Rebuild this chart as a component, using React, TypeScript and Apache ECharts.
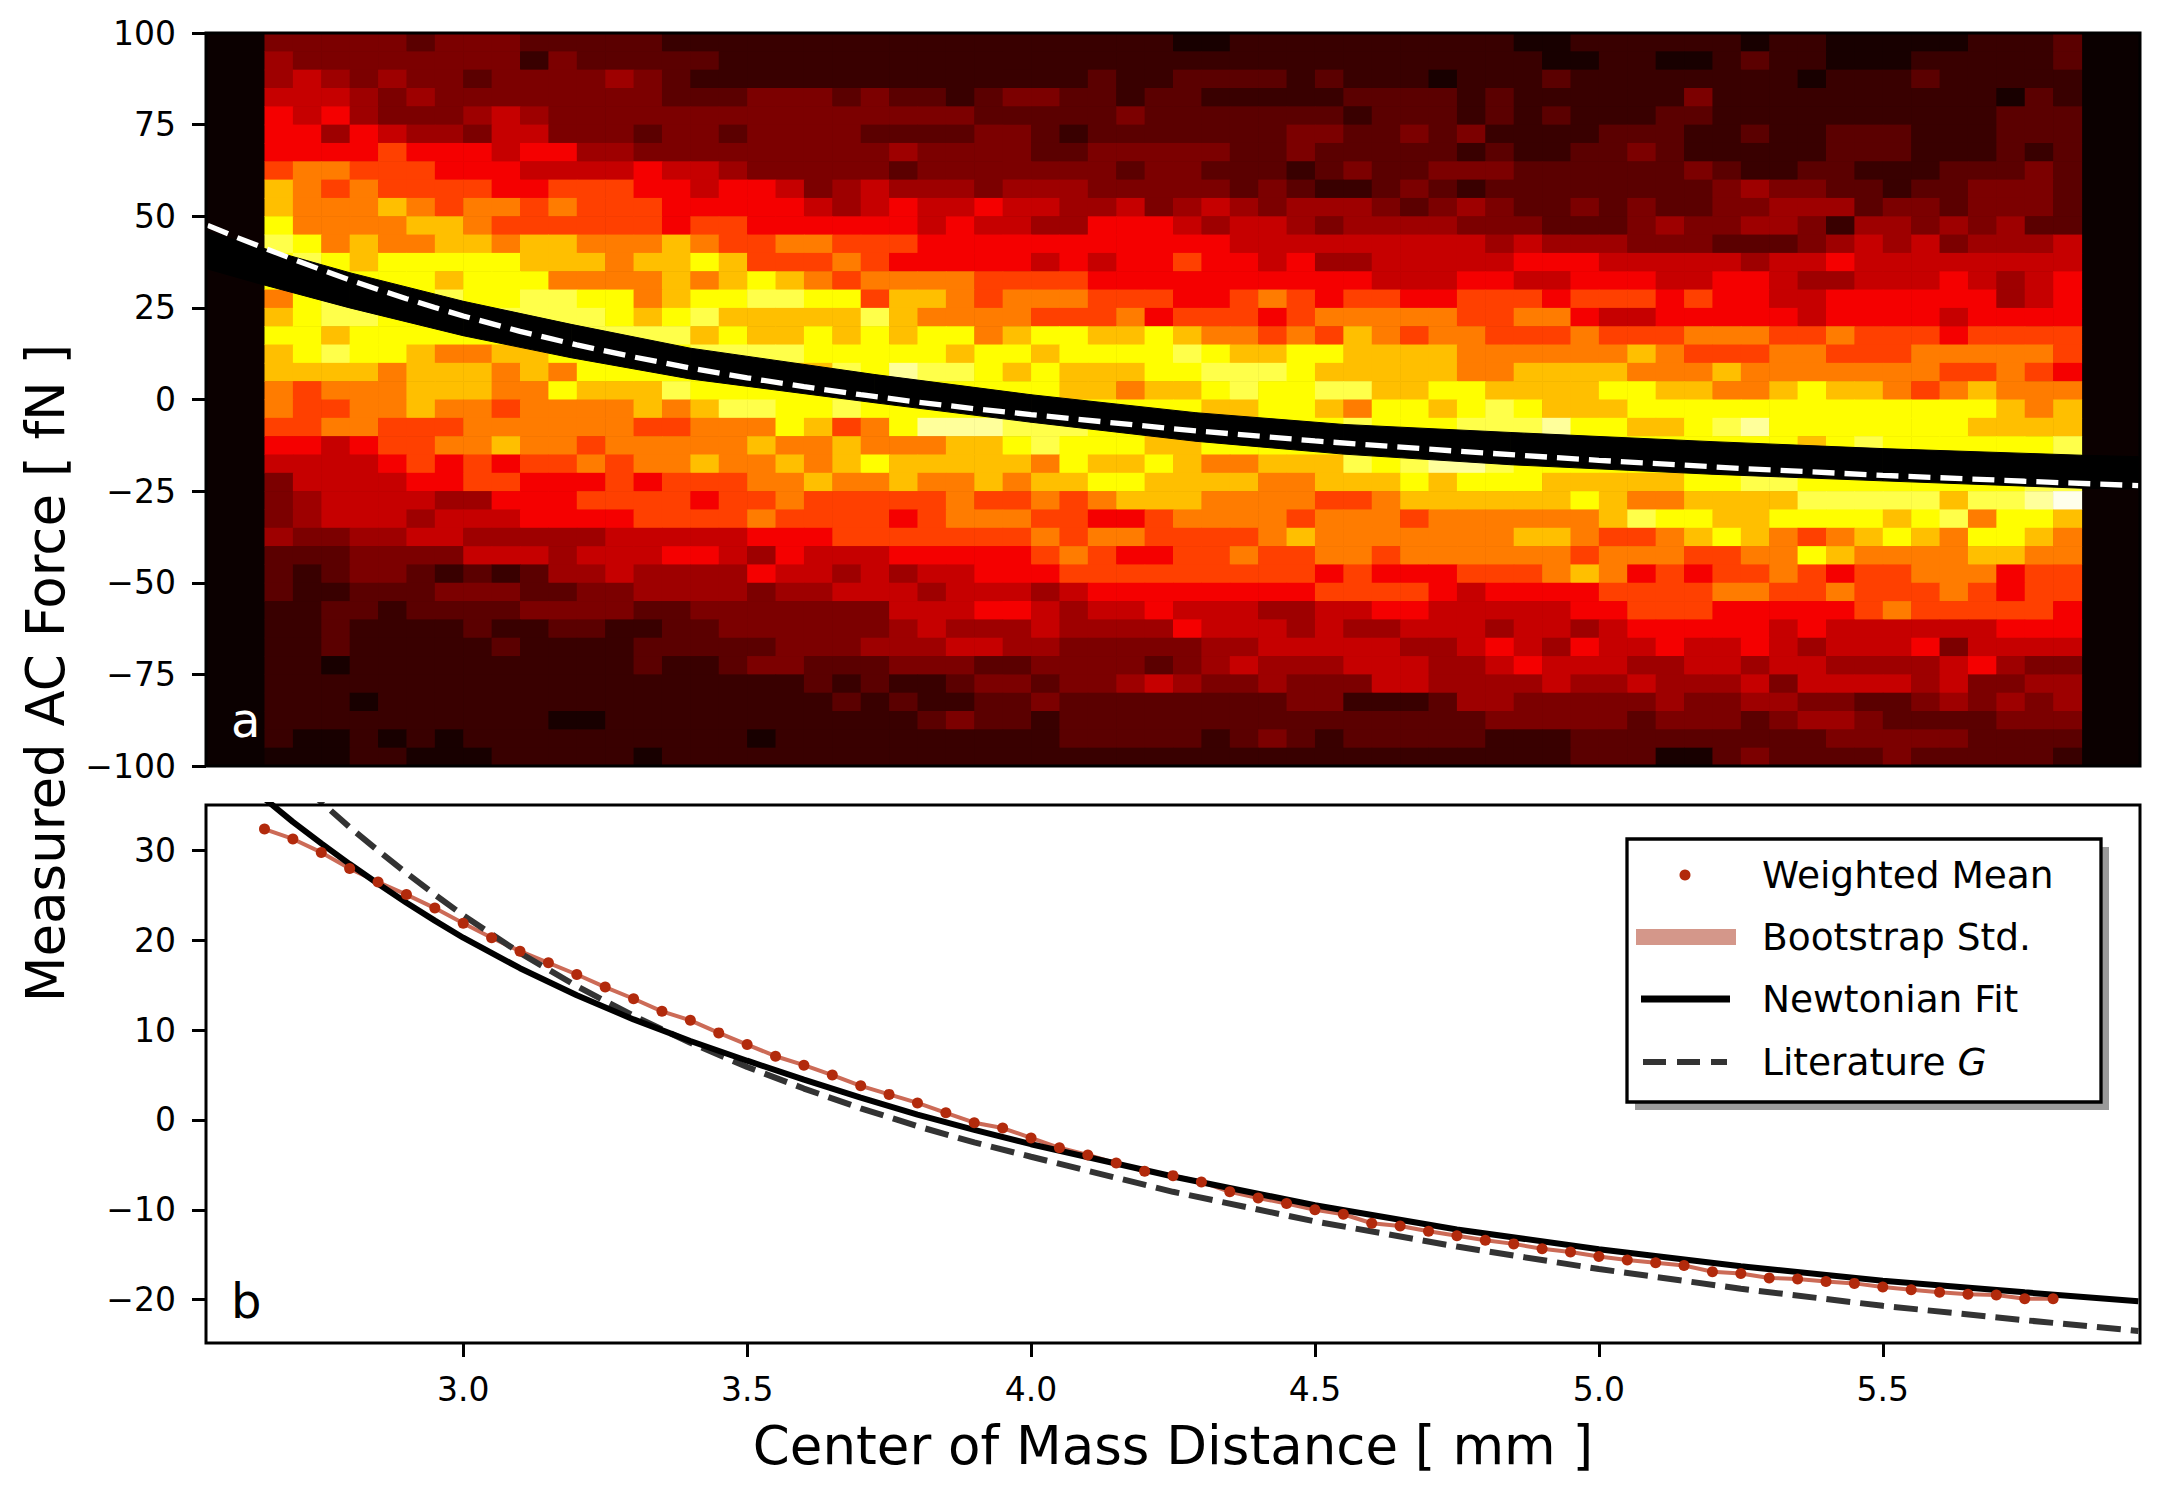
import React, { useEffect, useRef } from "react";
import * as echarts from "echarts";

// ---------- data ----------
const distanceBins = [
  2.65, 2.7, 2.75, 2.8, 2.85, 2.9, 2.95, 3.0, 3.05, 3.1, 3.15, 3.2, 3.25, 3.3, 3.35, 3.4,
  3.45, 3.5, 3.55, 3.6, 3.65, 3.7, 3.75, 3.8, 3.85, 3.9, 3.95, 4.0, 4.05, 4.1, 4.15, 4.2,
  4.25, 4.3, 4.35, 4.4, 4.45, 4.5, 4.55, 4.6, 4.65, 4.7, 4.75, 4.8, 4.85, 4.9, 4.95, 5.0,
  5.05, 5.1, 5.15, 5.2, 5.25, 5.3, 5.35, 5.4, 5.45, 5.5, 5.55, 5.6, 5.65, 5.7, 5.75, 5.8,
];
const forceBins = [
  95, 90, 85, 80, 75, 70, 65, 60, 55, 50, 45, 40, 35, 30, 25, 20, 15, 10, 5, 0,
  -5, -10, -15, -20, -25, -30, -35, -40, -45, -50, -55, -60, -65, -70, -75, -80, -85, -90, -95, -100,
];
const binWidth = 0.05;
const binHeight = 5;
const heatLevels = "0123456789ABCD";
const heatRows = [
  "3 3 3 3 3 2 3 3 3 2 2 2 2 2 1 1 1 1 1 1 1 1 | 1 1 1 1 1 1 1 1 1 1 0 0 1 1 1 1 1 1 1 1 1 1 | 0 0 1 1 1 1 1 1 0 1 1 0 0 0 0 0 1 1 1 2",
  "4 3 3 3 3 3 3 3 3 1 3 2 2 2 2 2 1 1 1 1 1 1 | 1 1 1 1 1 1 1 1 1 1 1 1 1 1 1 1 1 1 1 1 1 1 | 1 0 0 1 1 0 0 1 2 1 1 0 0 0 1 1 1 1 1 2",
  "4 5 4 3 4 3 3 2 3 3 3 3 4 3 2 1 1 1 1 1 1 1 | 1 1 1 1 1 1 1 2 1 1 2 2 2 2 1 2 1 1 1 0 1 1 | 1 2 1 1 1 1 1 1 1 1 0 1 1 1 2 1 1 1 1 1",
  "5 5 5 4 3 4 3 3 3 3 3 3 3 3 2 2 2 3 3 3 2 3 | 2 2 1 2 3 3 2 2 1 2 2 1 1 1 1 1 2 2 2 2 1 2 | 1 1 1 1 1 1 3 1 1 1 1 1 1 1 1 1 1 0 2 1",
  "6 5 6 4 3 3 3 4 5 4 3 3 3 3 3 3 3 3 3 3 3 3 | 3 3 3 2 2 2 2 2 3 2 2 2 2 2 2 2 1 2 2 2 1 2 | 1 2 1 1 1 2 2 1 1 1 1 1 1 1 1 1 1 2 2 2",
  "6 6 4 6 5 4 4 3 5 5 3 3 3 2 3 3 2 3 3 3 3 2 | 2 2 2 3 3 2 1 2 2 2 2 2 2 2 3 3 2 2 3 2 3 1 | 1 1 1 2 2 2 1 1 2 1 1 2 2 2 1 1 1 2 2 2",
  "6 6 6 6 7 6 6 6 5 6 6 4 4 3 3 3 3 3 3 3 3 3 | 4 3 3 3 3 2 2 3 3 3 3 3 2 2 3 2 2 2 2 2 1 2 | 1 1 2 2 3 2 1 1 1 1 1 2 2 2 1 1 1 2 1 2",
  "7 8 8 7 7 7 6 6 6 5 5 5 5 6 5 5 4 3 3 3 3 3 | 2 3 3 3 3 3 3 3 2 3 3 2 2 2 1 2 3 2 2 3 3 3 | 2 2 2 2 2 2 3 2 1 1 2 2 1 1 1 2 2 2 3 2",
  "9 8 7 8 7 7 7 7 6 6 7 7 7 6 6 5 6 6 5 3 4 5 | 4 4 4 3 4 4 4 3 3 3 3 3 2 3 2 1 1 2 3 2 1 2 | 2 2 2 2 2 2 2 3 4 3 3 2 2 1 2 2 3 3 3 2",
  "9 8 8 8 9 8 7 8 8 7 8 7 7 7 6 6 6 6 6 5 4 5 | 6 5 5 6 5 5 4 4 5 3 4 5 4 3 4 4 4 3 2 3 4 3 | 2 2 3 2 3 2 2 3 3 4 4 4 2 3 3 2 3 3 3 2",
  "A 8 8 8 8 9 9 8 7 7 7 7 7 7 6 7 7 6 6 6 6 6 | 6 5 6 5 5 4 4 6 6 6 5 4 5 5 4 3 4 4 4 4 3 3 | 3 2 2 2 3 4 3 3 4 4 3 1 4 4 3 4 3 4 2 2",
  "B A 8 9 8 8 9 9 8 9 9 8 8 8 9 8 7 7 8 8 7 7 | 7 6 6 6 6 6 6 6 6 6 6 6 5 5 5 5 5 5 5 5 5 4 | 5 4 4 4 3 3 3 2 2 2 3 4 5 4 5 3 4 4 4 5",
  "A B A 9 A A A A A 9 9 9 8 9 9 A 9 7 7 7 8 7 | 6 6 6 6 6 5 6 5 6 6 7 6 6 5 6 4 4 5 5 5 5 5 | 6 6 6 5 5 5 5 5 4 5 5 6 5 5 5 5 5 5 5 5",
  "A A A A A A 9 A A A 8 8 8 8 9 8 9 A 9 8 7 8 | 8 8 8 7 7 7 7 6 6 6 6 6 6 6 6 6 6 5 5 5 6 6 | 5 5 6 6 6 5 5 6 6 5 4 4 5 5 5 6 5 4 5 6",
  "8 A B A A A B A A B B A A 8 9 A A B B A A 7 | 9 9 8 7 8 8 8 7 7 7 6 6 7 8 7 6 7 7 6 6 7 7 | 7 6 7 7 7 6 7 6 6 5 5 6 6 6 6 6 6 4 5 6",
  "9 A B B A A A A B B B B A 9 A B 9 9 9 9 9 B | 9 8 8 8 8 7 7 7 8 6 7 7 7 6 7 8 8 8 8 8 7 7 | 8 8 6 5 5 6 6 6 6 6 5 6 6 6 6 5 6 6 6 6",
  "A A 9 A A A A A A A B B B B B 9 A 9 9 A 9 A | 9 A A 8 9 A A 9 9 A 9 8 8 7 8 7 9 8 7 8 8 7 | 7 7 8 7 7 7 8 8 8 7 7 8 7 7 7 6 7 7 7 7",
  "9 A B A A 9 8 8 9 9 A A A A A B B B B A A A | A A 9 A A 9 A A A A B A 9 9 A A 9 9 9 9 8 8 | 8 8 8 8 9 8 7 7 7 8 8 7 7 7 8 8 8 8 8 7",
  "9 9 9 9 8 9 9 9 8 9 8 A A A A A A 9 9 9 B A | C B B A 9 A 9 9 9 A A B B B A 9 9 9 9 9 8 8 | 9 9 9 9 8 8 8 9 8 8 8 8 8 8 8 7 7 8 7 6",
  "8 7 8 8 8 9 9 9 8 8 A 9 9 9 B A A A A A A A | A A A A A A 9 9 8 9 9 A B A A B B 9 9 A A 9 | 9 9 9 A A 9 9 8 8 9 A 9 9 8 7 8 9 8 8 8",
  "8 7 7 8 8 9 8 8 7 8 8 8 8 9 8 9 B B A A B A | A A A A A 9 A A A A A 9 9 A A 9 8 A A 9 A B | A 9 9 9 A A A A A A A A A A A A A 9 8 9",
  "7 7 8 8 7 7 7 8 8 8 8 8 8 7 7 8 8 8 A 9 7 8 | A C C C B B B A A A A A A A A A B A A A B B | B C A A 9 9 A B C A A A A A A A 9 9 9 9",
  "6 6 5 6 7 7 8 8 9 8 8 7 8 8 8 8 8 9 8 8 9 8 | 8 8 9 9 A B A A A 9 9 A A A A A A A B B B B | A A A A A A A A A A 9 A B A A A A A A B",
  "5 5 5 5 6 7 6 7 6 7 7 8 7 8 8 9 8 8 9 8 9 A | 9 9 9 9 9 8 A 9 9 A 9 8 8 9 9 9 B A B C C B | A A A A A A A A A A A A A A A A A A B B",
  "3 5 5 5 5 6 6 7 7 6 6 6 7 6 7 7 7 8 8 9 8 8 | 9 8 8 9 8 9 9 A A 9 9 9 9 8 8 9 9 9 A 9 A A | A 9 9 9 9 9 A A B B A A A A A A A A B B",
  "3 4 5 5 5 5 4 4 6 6 6 7 7 7 7 6 7 7 8 7 7 7 | 7 7 8 7 7 8 7 8 9 9 9 8 8 8 8 7 7 8 9 9 9 9 | 9 9 A 9 8 8 9 9 9 9 B B B B B 9 B B C D",
  "3 4 5 5 5 4 5 5 5 6 6 6 6 7 7 7 7 8 7 7 7 7 | 6 7 8 8 8 7 7 6 6 7 8 8 8 8 7 8 8 8 7 8 8 8 | 8 8 8 9 B A A 9 9 A A A A 9 A B 8 A A 9",
  "4 3 3 4 4 5 5 4 4 4 4 4 5 5 5 5 5 6 6 6 7 7 | 7 7 7 7 7 8 7 8 8 7 7 7 7 8 9 8 8 8 8 8 8 8 | 9 9 8 7 7 8 9 A 9 8 7 8 9 A 9 8 A A 9 8",
  "2 2 2 3 3 3 3 5 5 5 4 5 5 5 6 6 5 4 6 5 5 5 | 6 6 6 6 6 7 8 7 6 6 7 7 8 7 7 8 8 7 8 8 8 8 | 8 8 7 8 8 8 7 7 8 8 A 9 8 8 8 8 9 9 8 8",
  "2 1 2 3 3 2 1 2 1 2 4 4 5 4 4 4 4 6 5 5 4 5 | 4 5 5 6 6 6 7 7 7 7 7 7 7 7 7 6 7 6 6 6 7 7 | 7 8 9 8 6 7 6 7 7 8 7 6 7 7 8 8 8 6 7 7",
  "2 1 1 2 2 2 3 3 3 2 2 3 3 4 4 4 4 3 4 4 5 5 | 5 4 5 5 5 4 5 6 6 6 6 6 6 6 6 7 7 7 7 6 5 6 | 6 6 6 7 7 7 7 8 8 7 7 8 7 7 7 8 7 6 7 7",
  "1 1 2 2 1 2 2 2 2 3 3 3 3 2 2 3 3 3 3 3 3 3 | 5 5 5 6 6 5 4 5 5 6 5 5 5 4 4 5 5 6 6 5 5 5 | 5 5 6 6 7 7 7 6 6 6 6 6 7 8 7 7 7 7 7 6",
  "1 1 2 1 1 1 1 2 1 1 2 2 1 1 2 2 3 3 3 3 3 3 | 4 5 4 4 4 5 4 4 4 4 6 5 5 5 4 5 4 4 5 5 5 4 | 5 5 4 5 6 6 6 6 6 5 6 5 5 5 5 5 5 6 6 6",
  "1 1 2 1 1 1 1 1 2 1 1 1 1 2 2 2 2 2 3 3 3 4 | 4 4 5 5 4 4 3 3 3 3 3 4 4 5 5 5 5 5 4 4 5 6 | 5 4 6 5 5 6 5 5 6 5 4 5 5 5 6 3 5 5 5 5",
  "1 1 0 1 1 1 1 1 1 1 1 1 1 2 1 1 2 3 3 2 2 2 | 3 3 3 2 2 3 3 3 3 2 3 4 5 4 4 4 5 5 5 4 4 5 | 6 5 5 5 4 4 5 5 4 5 5 4 4 4 4 5 6 4 3 3",
  "1 1 1 1 1 1 1 1 1 1 1 1 1 1 1 1 1 1 1 2 1 2 | 1 1 2 3 3 2 3 3 4 5 4 3 3 4 3 3 3 5 5 4 4 4 | 4 5 4 4 5 4 4 4 5 3 5 5 5 5 4 5 3 3 4 4",
  "1 1 1 0 1 1 1 1 1 1 1 1 1 1 1 1 1 1 1 1 2 1 | 2 1 1 2 2 3 2 2 2 2 2 2 2 2 3 3 1 1 1 2 4 4 | 3 3 3 3 3 4 3 3 4 4 3 3 2 2 3 4 3 4 3 4",
  "1 1 1 1 1 1 1 1 1 1 0 0 1 1 1 1 1 1 1 1 1 1 | 1 2 3 2 2 1 2 2 2 2 2 2 2 2 2 2 2 2 2 2 2 3 | 3 3 3 3 2 3 3 3 2 3 4 4 3 2 2 2 2 3 3 3",
  "1 0 0 1 0 1 0 1 1 1 1 1 1 1 1 1 1 0 1 1 1 1 | 1 1 1 1 1 1 2 2 2 2 2 1 2 3 2 1 2 2 2 2 2 1 | 1 1 2 2 2 2 2 2 2 2 2 3 3 3 3 3 2 2 2 2",
  "0 0 0 1 1 0 0 0 1 1 1 1 1 0 1 1 1 1 1 1 1 1 | 1 1 1 1 1 1 1 1 1 1 1 1 1 1 1 1 1 1 1 1 1 1 | 1 1 2 2 2 0 0 2 3 2 2 2 2 3 2 2 2 2 2 1",
];

const weightedMean = [
  32.4, 31.3, 29.8, 28.0, 26.5, 25.1, 23.6, 21.9, 20.3, 18.8, 17.5, 16.2, 14.8, 13.5, 12.1, 11.1,
  9.7, 8.4, 7.1, 6.1, 5.0, 3.8, 2.85, 1.9, 0.8, -0.3, -0.9, -2.0, -3.1, -3.9, -4.8, -5.7,
  -6.2, -6.9, -8.0, -8.7, -9.3, -10.0, -10.5, -11.5, -11.8, -12.4, -12.9, -13.4, -13.8, -14.35, -14.7, -15.2,
  -15.6, -15.9, -16.2, -16.9, -17.1, -17.6, -17.7, -18.0, -18.2, -18.6, -18.9, -19.2, -19.4, -19.5, -19.9, -19.9,
];

const fitX = [2.55, 2.6, 2.65, 2.7, 2.75, 2.8, 2.85, 2.9, 2.95, 3.0, 3.1, 3.2, 3.3, 3.4, 3.5, 3.6, 3.7, 3.8, 3.9, 4.0, 4.25, 4.5, 4.75, 5.0, 5.25, 5.5, 5.75, 5.95];
const fitY = [41.3, 38.5, 35.8, 33.2, 30.8, 28.5, 26.3, 24.2, 22.2, 20.3, 16.9, 13.9, 11.2, 8.8, 6.6, 4.5, 2.5, 0.6, -1.1, -2.7, -6.3, -9.5, -12.2, -14.4, -16.3, -17.9, -19.2, -20.2];

const litX = [2.55, 2.6, 2.65, 2.7, 2.75, 2.8, 2.85, 2.9, 2.95, 3.0, 3.1, 3.2, 3.3, 3.4, 3.5, 3.6, 3.7, 3.8, 3.9, 4.0, 4.25, 4.5, 4.75, 5.0, 5.25, 5.5, 5.75, 5.95];
const litY = [47.5, 44.3, 41.3, 38.3, 35.4, 32.6, 30.0, 27.5, 25.1, 22.8, 18.6, 14.9, 11.6, 8.6, 5.9, 3.5, 1.3, -0.7, -2.5, -4.1, -8.0, -11.3, -14.1, -16.6, -18.8, -20.7, -22.3, -23.5];

const bandX = [2.55, 2.636, 2.8, 3.0, 3.19, 3.4, 3.725, 4.0, 4.29, 4.55, 4.845, 5.2, 5.5, 5.85, 5.95];
const bandHigh = [45.8, 41.8, 34.6, 26.8, 20.5, 14.0, 6.8, 1.3, -3.6, -6.8, -9.0, -11.5, -13.4, -15.2, -15.6];
const bandLow = [35.6, 31.8, 25.0, 17.4, 11.4, 5.6, -0.9, -6.2, -11.4, -14.9, -17.8, -20.4, -22.2, -24.2, -24.4];

const distanceTicks = [3.0, 3.5, 4.0, 4.5, 5.0, 5.5];
const forceTicksBottom = [-20, -10, 0, 10, 20, 30];
const legendLabels = ["Weighted Mean", "Bootstrap Std.", "Newtonian Fit", "Literature G"];
const xTitle = "Center of Mass Distance [ mm ]";
const yTitle = "Measured AC Force [ fN ]";

// ---------- style ----------
const FONT = "DejaVu Sans";
const levelValue = [0.02, 0.07, 0.12, 0.17, 0.22, 0.28, 0.35, 0.46, 0.55, 0.65, 0.745, 0.82, 0.9, 0.98];
function hot(v: number) {
  const r = Math.min(1, 0.0416 + (1 - 0.0416) * v / 0.365079);
  const g = Math.max(0, Math.min(1, (v - 0.365079) / (0.746032 - 0.365079)));
  const b = Math.max(0, Math.min(1, (v - 0.746032) / (1 - 0.746032)));
  return `rgb(${Math.round(r * 255)},${Math.round(g * 255)},${Math.round(b * 255)})`;
}
const minus = (v: number) => String(v).replace("-", "\u2212");

const G1 = { left: 206, top: 33, width: 1934, height: 733 };
const G2 = { left: 206, top: 805, width: 1934, height: 538 };
const X_MIN = 2.547, X_MAX = 5.953;
const Y2_MIN = -24.84, Y2_MAX = 35.08;

function buildHeat() {
  const segLens = [22, 22, 20];
  const out: number[][] = [];
  heatRows.forEach((row, r) => {
    const cells: string[] = [];
    row.split("|").forEach((seg, i) => {
      const arr = seg.trim().split(/\s+/).slice(0, segLens[i]);
      while (arr.length < segLens[i]) arr.push(arr[arr.length - 1]);
      cells.push(...arr);
    });
    cells.forEach((c, k) => {
      out.push([distanceBins[k], forceBins[r], Math.max(0, heatLevels.indexOf(c))]);
    });
  });
  return out;
}

export default function App() {
  const ref = useRef<HTMLDivElement>(null);
  useEffect(() => {
    document.body.style.margin = "0";
    if (!ref.current) return;
    const chart = echarts.init(ref.current, null, { renderer: "svg" });
    const heatData = buildHeat();
    const bandData = bandX.slice(0, -1).map((x, i) => [x, bandLow[i], bandHigh[i], bandX[i + 1], bandLow[i + 1], bandHigh[i + 1]]);
    const axisTextBase = { color: "#000", fontFamily: FONT, fontSize: 33 };
    const tickStyle = { show: true, inside: false, length: 14, lineStyle: { color: "#000", width: 3 } };

    const legendX = 1627, legendY = 839, legendW = 474, legendH = 263;
    const rowY = [875, 937, 999, 1062];
    const textX = 1762;
    const legendTextStyle = (t: string, y: number) => ({
      type: "text",
      z: 102,
      silent: true,
      style: {
        x: textX, y, text: t, fill: "#000", font: `37.5px "${FONT}"`,
        textAlign: "left", textVerticalAlign: "middle",
      },
    });

    const option: any = {
      animation: false,
      backgroundColor: "#fff",
      textStyle: { fontFamily: FONT },
      grid: [
        { ...G1, show: true, backgroundColor: "#0b0000", borderWidth: 0, containLabel: false },
        { ...G2, show: false, containLabel: false },
      ],
      xAxis: [
        {
          gridIndex: 0, type: "value", min: X_MIN, max: X_MAX,
          axisLine: { show: false, onZero: false }, axisTick: { show: false }, axisLabel: { show: false }, splitLine: { show: false },
        },
        {
          gridIndex: 1, type: "value", min: X_MIN, max: X_MAX, position: "bottom",
          axisLine: { show: false, onZero: false },
          axisTick: { ...tickStyle, customValues: distanceTicks },
          axisLabel: { ...axisTextBase, margin: 30, customValues: distanceTicks, formatter: (v: number) => v.toFixed(1) },
          splitLine: { show: false },
        },
      ],
      yAxis: [
        {
          gridIndex: 0, type: "value", min: -100, max: 100, interval: 25, position: "left",
          axisLine: { show: false, onZero: false },
          axisTick: tickStyle,
          axisLabel: { ...axisTextBase, margin: 30, formatter: minus },
          splitLine: { show: false },
        },
        {
          gridIndex: 1, type: "value", min: Y2_MIN, max: Y2_MAX, position: "left",
          axisLine: { show: false, onZero: false },
          axisTick: { ...tickStyle, customValues: forceTicksBottom },
          axisLabel: { ...axisTextBase, margin: 30, customValues: forceTicksBottom, formatter: minus },
          splitLine: { show: false },
        },
      ],
      series: [
        {
          type: "custom", name: "counts", xAxisIndex: 0, yAxisIndex: 0, z: 1, silent: true,
          data: heatData, encode: { x: 0, y: 1 },
          renderItem: (params: any, api: any) => {
            const x0 = api.value(0), y0 = api.value(1), lv = api.value(2);
            const a = api.coord([x0, y0 + binHeight]);
            const b = api.coord([x0 + binWidth, y0]);
            return {
              type: "rect",
              shape: { x: a[0], y: a[1], width: b[0] - a[0] + 0.6, height: b[1] - a[1] + 0.6 },
              style: { fill: hot(levelValue[lv] ?? 0) },
            };
          },
        },
        {
          type: "custom", name: "fit band", xAxisIndex: 0, yAxisIndex: 0, z: 3, silent: true, clip: true,
          data: bandData, encode: { x: [0, 3], y: [1, 2, 4, 5] },
          renderItem: (params: any, api: any) => {
            const p1 = api.coord([api.value(0), api.value(2)]);
            const p2 = api.coord([api.value(3), api.value(5)]);
            const p3 = api.coord([api.value(3), api.value(4)]);
            const p4 = api.coord([api.value(0), api.value(1)]);
            return {
              type: "polygon",
              shape: { points: [p1, p2, p3, p4] },
              style: { fill: "#000", stroke: "#000", lineWidth: 1 },
            };
          },
        },
        {
          type: "line", xAxisIndex: 0, yAxisIndex: 0, z: 4, silent: true,
          data: litX.map((x, i) => [x, litY[i]]),
          symbol: "none", lineStyle: { color: "#fff", width: 5.3, type: [22, 10] },
        },
        {
          type: "line", name: "Bootstrap Std.", xAxisIndex: 1, yAxisIndex: 1, z: 2, silent: true,
          data: distanceBins.map((x, i) => [x, weightedMean[i]]),
          symbol: "none", lineStyle: { color: "#cc6b57", width: 4 },
        },
        {
          type: "line", name: "Literature G", xAxisIndex: 1, yAxisIndex: 1, z: 3, silent: true,
          data: litX.map((x, i) => [x, litY[i]]),
          symbol: "none", lineStyle: { color: "#333333", width: 6, type: [24, 10] },
        },
        {
          type: "line", name: "Newtonian Fit", xAxisIndex: 1, yAxisIndex: 1, z: 4, silent: true,
          data: fitX.map((x, i) => [x, fitY[i]]),
          symbol: "none", lineStyle: { color: "#000", width: 6 },
        },
        {
          type: "scatter", name: "Weighted Mean", xAxisIndex: 1, yAxisIndex: 1, z: 5, silent: true,
          data: distanceBins.map((x, i) => [x, weightedMean[i]]),
          symbol: "circle", symbolSize: 11, itemStyle: { color: "#b22a0c", opacity: 1 },
        },
      ],
      graphic: [
        { type: "rect", z: 100, silent: true, shape: { x: G1.left, y: G1.top, width: G1.width, height: G1.height }, style: { fill: "none", stroke: "#000", lineWidth: 3 } },
        { type: "rect", z: 100, silent: true, shape: { x: G2.left, y: G2.top, width: G2.width, height: G2.height }, style: { fill: "none", stroke: "#000", lineWidth: 3 } },
        { type: "text", z: 101, silent: true, style: { x: 231, y: 720, text: "a", fill: "#fff", font: `48px "${FONT}"`, textAlign: "left", textVerticalAlign: "middle" } },
        { type: "text", z: 101, silent: true, style: { x: 231, y: 1301, text: "b", fill: "#000", font: `48px "${FONT}"`, textAlign: "left", textVerticalAlign: "middle" } },
        { type: "text", z: 101, silent: true, style: { x: 1173, y: 1445, text: xTitle, fill: "#000", font: `53px "${FONT}"`, textAlign: "center", textVerticalAlign: "middle" } },
        { type: "text", z: 101, silent: true, x: 45, y: 673, rotation: Math.PI / 2, style: { x: 0, y: 0, text: yTitle, fill: "#000", font: `53px "${FONT}"`, textAlign: "center", textVerticalAlign: "middle" } },
        // legend
        { type: "rect", z: 100, silent: true, shape: { x: legendX + 8, y: legendY + 8, width: legendW, height: legendH }, style: { fill: "#9a9a9a" } },
        { type: "rect", z: 101, silent: true, shape: { x: legendX, y: legendY, width: legendW, height: legendH }, style: { fill: "#fff", stroke: "#000", lineWidth: 3.3 } },
        { type: "circle", z: 102, silent: true, shape: { cx: 1685, cy: rowY[0], r: 5.5 }, style: { fill: "#b22a0c" } },
        { type: "rect", z: 102, silent: true, shape: { x: 1636, y: rowY[1] - 8, width: 100, height: 16 }, style: { fill: "#d4978a" } },
        { type: "line", z: 102, silent: true, shape: { x1: 1641, y1: rowY[2], x2: 1730, y2: rowY[2] }, style: { stroke: "#000", lineWidth: 7 } },
        { type: "line", z: 102, silent: true, shape: { x1: 1643, y1: rowY[3], x2: 1727, y2: rowY[3] }, style: { stroke: "#333333", lineWidth: 6, lineDash: [23, 11] } },
        legendTextStyle(legendLabels[0], rowY[0]),
        legendTextStyle(legendLabels[1], rowY[1]),
        legendTextStyle(legendLabels[2], rowY[2]),
        {
          type: "text", z: 102, silent: true,
          style: {
            x: textX, y: rowY[3], text: "{n|Literature }{i|G}", fill: "#000", font: `37.5px "${FONT}"`,
            textAlign: "left", textVerticalAlign: "middle",
            rich: {
              n: { fontSize: 37.5, fontFamily: FONT, fill: "#000" },
              i: { fontSize: 37.5, fontFamily: FONT, fontStyle: "italic", fill: "#000" },
            },
          },
        },
      ],
    };
    chart.setOption(option);
    return () => chart.dispose();
  }, []);
  return <div ref={ref} style={{ width: 2160, height: 1500 }} />;
}
